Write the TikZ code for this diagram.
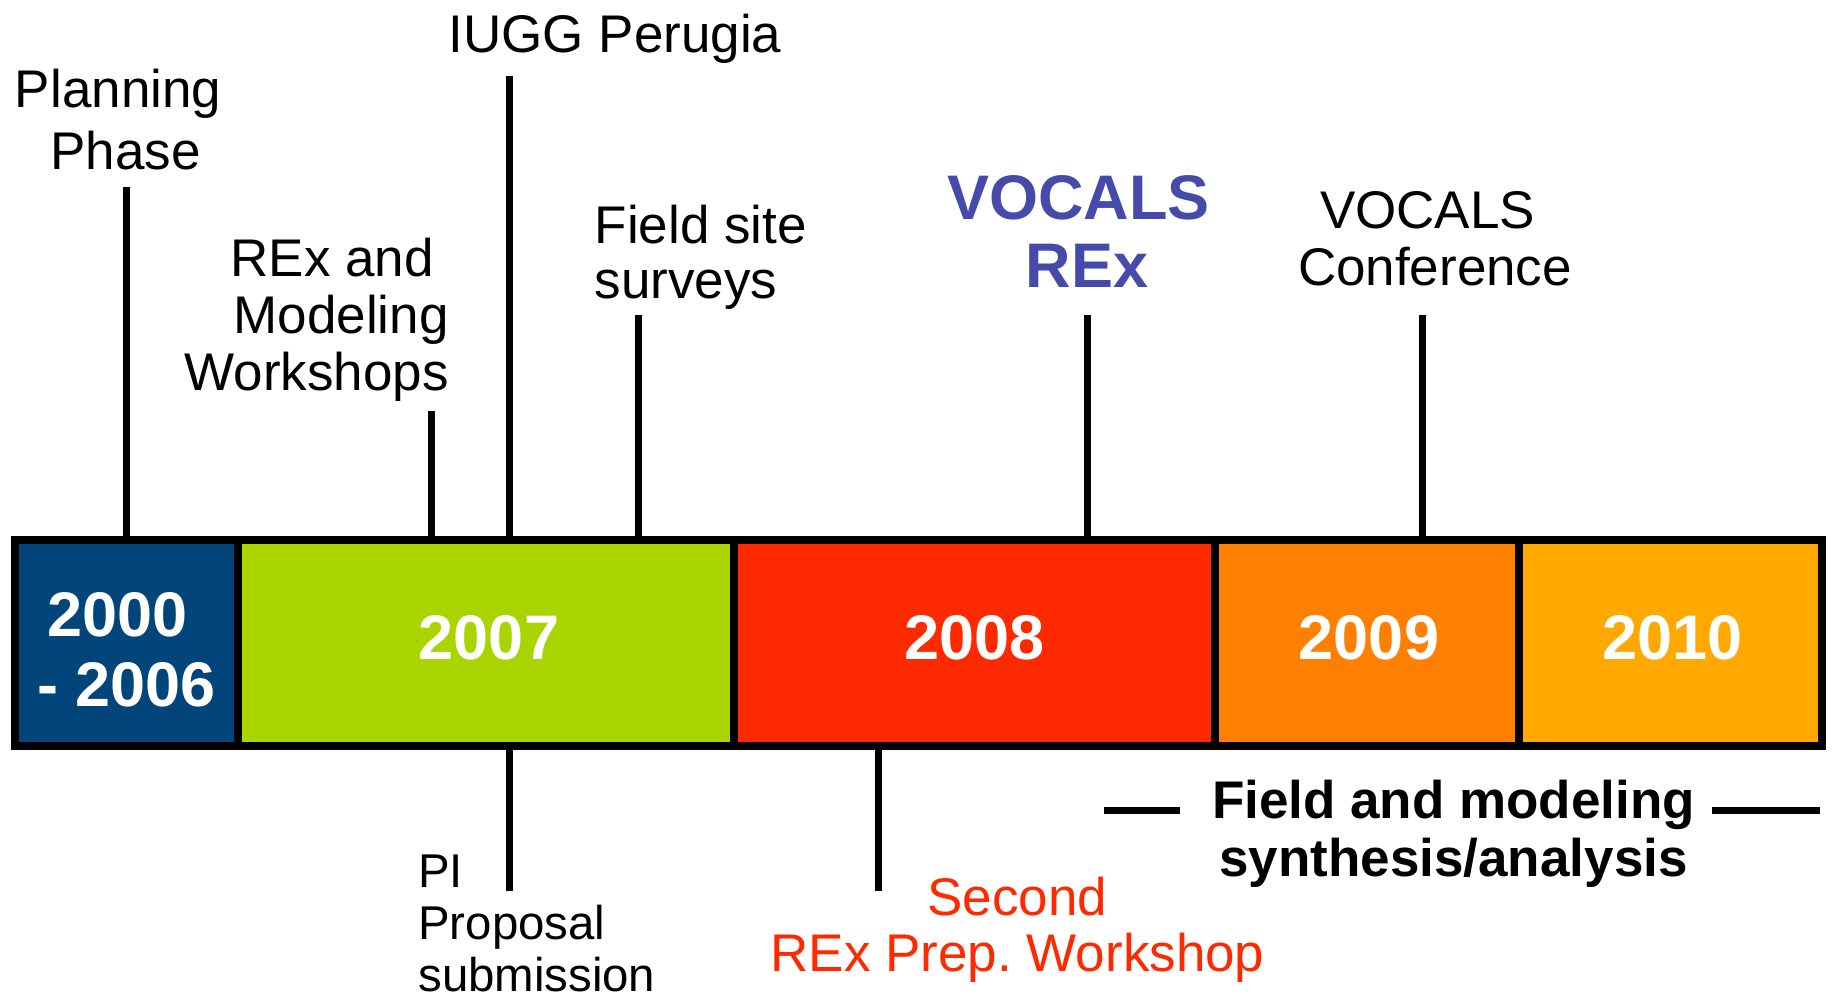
\documentclass[tikz,border=0pt]{standalone}
\usepackage{fontspec}
\setmainfont{Liberation Sans}
\frenchspacing

\definecolor{eraNavy}{RGB}{2,69,122}
\definecolor{eraLime}{RGB}{170,212,0}
\definecolor{eraRed}{RGB}{255,41,0}
\definecolor{eraOrange}{RGB}{255,127,0}
\definecolor{eraGold}{RGB}{255,168,0}
\definecolor{rexBlue}{RGB}{70,74,170}

\tikzset{
  yearbox/.style={draw=black, line width=4pt, inner sep=0pt, outer sep=0pt,
    minimum height=103pt, text=white, align=center,
    font=\bfseries\fontsize{31.5}{35}\selectfont},
  oneyear/.style={yearbox, text depth=5.5pt},
  tickline/.style={line width=3.5pt},
  evt/.style={inner sep=0pt, outer sep=0pt, anchor=base},
  evtfont/.style={font=\fontsize{26.5}{#1}\selectfont},
}

\begin{document}
\begin{tikzpicture}[x=0.5pt, y=-0.5pt]
\useasboundingbox (0,0) rectangle (1832,1001);

% year blocks of the time bar
\node[yearbox, fill=eraNavy, minimum width=111.5pt, text height=63.5pt] (b0) at (126.5,643) {2000\makebox[8.7pt]{}\\- 2006};
\node[oneyear, fill=eraLime,   minimum width=248pt]   (b1) at (486,643)   {\hspace*{3pt}2007};
\node[oneyear, fill=eraRed,    minimum width=240.5pt] (b2) at (974.5,643) {2008};
\node[oneyear, fill=eraOrange, minimum width=152pt]   (b3) at (1367,643)  {\hspace*{2pt}2009};
\node[oneyear, fill=eraGold,   minimum width=151.5pt] (b4) at (1670.5,643) {\hspace*{2pt}2010};

% events above the bar (multi-line labels sit on their last baseline)
\node[evt, evtfont=31pt, align=center] (plan) at (125.5,169.4) {Planning\makebox[7.4pt]{}\\Phase};
\node[evt, evtfont=28.5pt, align=right, anchor=base east] (wksp) at (448.7,390) {REx and\makebox[7.4pt]{}\\Modeling\\Workshops};
\node[evt, evtfont=28.5pt] (iugg) at (615,52.6) {IUGG Perugia};
\node[evt, evtfont=27.5pt, align=left, anchor=base west] (fss) at (594.7,298) {Field site\\surveys};
\node[evt, align=center, text=rexBlue, font=\bfseries\fontsize{31.5}{34}\selectfont] (vrex) at (1087,287.4) {VOCALS\makebox[8.7pt]{}\\REx};
\node[evt, evtfont=28.5pt, align=center] (conf) at (1435,285) {VOCALS\makebox[7.4pt]{}\\Conference};

% events below the bar
\node[evt, font=\fontsize{23.7}{26}\selectfont, align=left, anchor=base west] (pi) at (418.3,991) {PI\\Proposal\\submission};
\node[evt, evtfont=28pt, align=center, text=eraRed] (sec) at (1017.5,971) {Second\\REx Prep. Workshop};
\node[evt, align=center, font=\bfseries\fontsize{26.5}{29}\selectfont] (fam) at (1453.5,876.3) {Field and modeling\\synthesis/analysis};

% tick tops / bottoms
\coordinate (tplan) at (126,187);
\coordinate (twksp) at (431,411);
\coordinate (tiugg) at (509,76);
\coordinate (tfss)  at (638,315);
\coordinate (tvrex) at (1087,315);
\coordinate (tconf) at (1422,315);
\coordinate (tpi)   at (509,891);
\coordinate (tsec)  at (878,891);

\draw[tickline] (tplan) -- (tplan |- b0.north);
\draw[tickline] (twksp) -- (twksp |- b1.north);
\draw[tickline] (tiugg) -- (tiugg |- b1.north);
\draw[tickline] (tfss)  -- (tfss  |- b1.north);
\draw[tickline] (tvrex) -- (tvrex |- b2.north);
\draw[tickline] (tconf) -- (tconf |- b3.north);
\draw[tickline] (tpi |- b1.south) -- (tpi);
\draw[tickline] (tsec |- b2.south) -- (tsec);

% span markers either side of the synthesis label
\coordinate (spanL) at (1104,810);
\coordinate (spanR) at (1820,810);
\draw[tickline] (spanL) -- ++(76,0);
\draw[tickline] (spanR) -- ++(-108,0);
\end{tikzpicture}
\end{document}
